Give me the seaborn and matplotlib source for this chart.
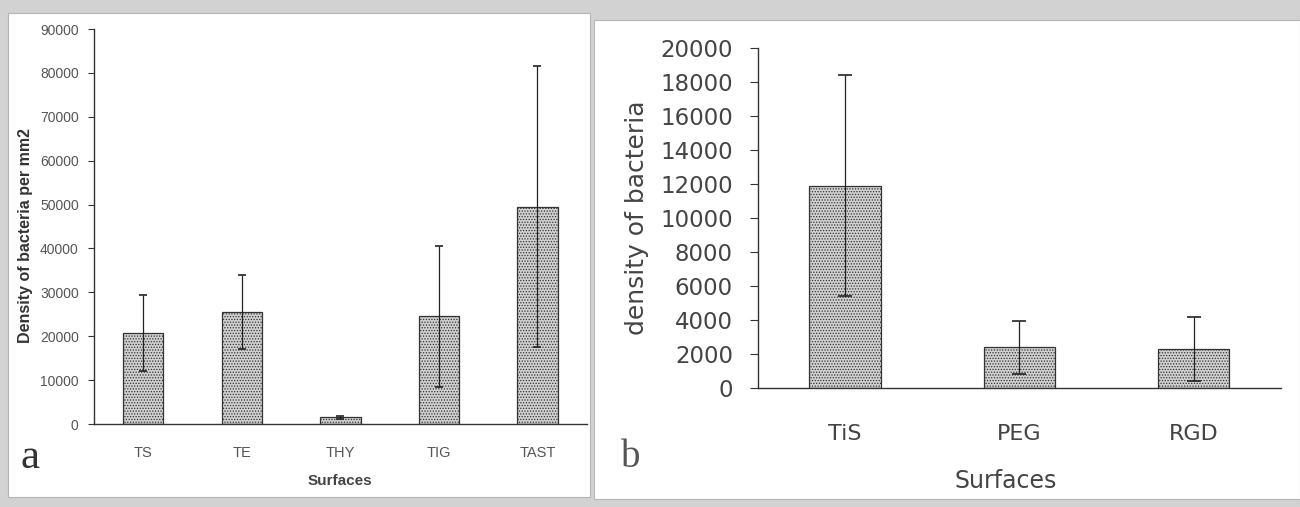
import numpy as np
import matplotlib
matplotlib.use("Agg")
import matplotlib.pyplot as plt
import seaborn as sns
from matplotlib.patches import Rectangle

# data (mean and error bar half-length)
surfaces_a = ["TS", "TE", "THY", "TIG", "TAST"]
density_a = [20800, 25500, 1500, 24500, 49500]
err_a = [8700, 8500, 250, 16000, 32000]

surfaces_b = ["TiS", "PEG", "RGD"]
density_b = [11900, 2400, 2300]
err_b = [6500, 1550, 1900]

sns.set_style("white")
plt.rcParams["font.family"] = ["Liberation Sans", "DejaVu Sans"]

fig = plt.figure(figsize=(13, 5.07), dpi=100)
fig.patch.set_facecolor("#d2d2d2")

# white panels behind each chart (scanned page look)
fig.patches.append(Rectangle((0.006, 0.02), 0.448, 0.955, transform=fig.transFigure,
                             facecolor="white", edgecolor="#b5b5b5", lw=0.8, zorder=-5))
fig.patches.append(Rectangle((0.457, 0.015), 0.543, 0.945, transform=fig.transFigure,
                             facecolor="white", edgecolor="#b5b5b5", lw=0.8, zorder=-5))

bar_col = "#d0d0d0"
plt.rcParams["hatch.color"] = "#808080"
plt.rcParams["hatch.linewidth"] = 0.6


def draw(ax, cats, vals, errs, ymax, ystep, cap):
    sns.barplot(x=cats, y=vals, ax=ax, color=bar_col, width=0.41, errorbar=None,
                edgecolor="#333333", linewidth=0.9, hatch="......", saturation=1)
    ax.errorbar(np.arange(len(cats)), vals, yerr=errs, fmt="none",
                ecolor="#222222", elinewidth=0.9, capsize=cap, capthick=1.2)
    ax.set_xlim(-0.5, len(cats) - 0.5)
    ax.set_ylim(0, ymax)
    ax.set_yticks(np.arange(0, ymax + 1, ystep))
    # excel style: ticks between categories, labels at centres
    ax.set_xticks(np.arange(-0.5, len(cats), 1.0))
    ax.set_xticklabels([""] * (len(cats) + 1))
    ax.set_xticks(np.arange(len(cats)), minor=True)
    ax.tick_params(axis="x", which="major", length=4, direction="out", color="#333333")
    ax.tick_params(axis="y", length=4, direction="out", color="#333333", left=True)
    for s in ["top", "right"]:
        ax.spines[s].set_visible(False)
    for s in ["left", "bottom"]:
        ax.spines[s].set_color("#333333")
        ax.spines[s].set_linewidth(1.0)
    ax.set_facecolor("none")


# panel a
ax1 = fig.add_axes([0.0723, 0.1637, 0.379, 0.779])
draw(ax1, surfaces_a, density_a, err_a, 90000, 10000, 3)
ax1.set_yticklabels([str(v) for v in range(0, 90001, 10000)], fontsize=10, color="#555555")
ax1.set_xticklabels(surfaces_a, minor=True, fontsize=10.5, color="#555555")
ax1.tick_params(axis="x", which="minor", length=0, pad=16)
ax1.tick_params(axis="y", pad=7)
ax1.set_ylabel("Density of bacteria per mm2", fontsize=11.5, fontweight="bold",
               color="#333333", labelpad=5, y=0.478)
ax1.set_xlabel("Surfaces", fontsize=11, fontweight="bold", color="#444444", labelpad=10)

# panel b
ax2 = fig.add_axes([0.583, 0.2347, 0.4023, 0.6706])
draw(ax2, surfaces_b, density_b, err_b, 20000, 2000, 5)
ax2.set_yticklabels([str(v) for v in range(0, 20001, 2000)], fontsize=16.5,
                    color="#444444", family="DejaVu Sans")
ax2.set_xticklabels(surfaces_b, minor=True, fontsize=16, color="#444444", family="DejaVu Sans")
ax2.tick_params(axis="x", which="minor", length=0, pad=26)
ax2.tick_params(axis="y", length=6, pad=12)
ax2.set_ylabel("density of bacteria", fontsize=18, color="#444444", family="DejaVu Sans", labelpad=8)
ax2.set_xlabel("Surfaces", fontsize=17, color="#444444", family="DejaVu Sans", labelpad=18, x=0.474)

fig.text(0.016, 0.077, "a", fontsize=31, family="Liberation Serif", color="#333333")
fig.text(0.478, 0.079, "b", fontsize=28, family="Liberation Serif", color="#555555")

fig.savefig("out.png", dpi=100, facecolor=fig.get_facecolor())
